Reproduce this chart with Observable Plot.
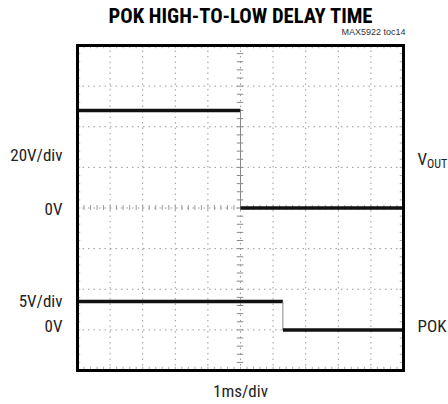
<!DOCTYPE html>
<html>
<head>
<meta charset="utf-8">
<script src="https://cdn.jsdelivr.net/npm/d3@7"></script>
<script src="https://cdn.jsdelivr.net/npm/@observablehq/plot@0.6"></script>
<style>
  html, body { margin: 0; padding: 0; background: #fff; }
  #chart svg { display: block; }
</style>
</head>
<body>
<div id="chart"></div>
<script>
// ---- data ----
const title = "POK HIGH-TO-LOW DELAY TIME";
const figureId = "MAX5922 toc14";
const timeLabel = "1ms/div";
const msPerDiv = 1;
const divsX = 10;          // horizontal divisions
const divsY = 8;           // vertical divisions

// VOUT trace (volts), 20V/div, zero at centre line
const voutTimeMs = [0, 5.0, 5.0, 10];
const voutVolts  = [48, 48, 0, 0];
const voutVPerDiv = 20;
const voutZeroDiv = 0;

// POK trace (volts), 5V/div, zero 3 divisions below centre
const pokTimeMs = [0, 6.3, 6.3, 10];
const pokVolts  = [3.5, 3.5, 0, 0];
const pokVPerDiv = 5;
const pokZeroDiv = -3;

const leftLabels  = ["20V/div", "0V", "5V/div", "0V"];
const leftLabelDiv = [voutZeroDiv + 1.3, voutZeroDiv - 0.04, pokZeroDiv + 0.69, pokZeroDiv + 0.08];
const rightLabels = ["VOUT", "POK"];
const rightLabelDiv = [voutZeroDiv + 1.2, pokZeroDiv + 0.08];

// ---- derived ----
function segments(ts, vs, vPerDiv, zero) {
  const pts = ts.map((t, i) => ({x: t / msPerDiv, y: vs[i] / vPerDiv + zero}));
  const segs = [];
  for (let i = 0; i < pts.length - 1; i++) {
    const a = pts[i], b = pts[i + 1];
    const horiz = a.y === b.y;
    segs.push({x1: a.x, y1: a.y, x2: b.x, y2: b.y, w: horiz ? 3.5 : 1, c: horiz ? "#111" : "#888"});
  }
  return segs;
}
const traceSegs = [
  ...segments(voutTimeMs, voutVolts, voutVPerDiv, voutZeroDiv),
  ...segments(pokTimeMs, pokVolts, pokVPerDiv, pokZeroDiv)
];

const gridX = d3.range(1, divsX);
const gridY = d3.range(-divsY / 2 + 1, divsY / 2);
const minorX = d3.range(0, divsX * 5 + 1).map(i => i / 5);
const minorY = d3.range(-divsY * 5 / 2, divsY * 5 / 2 + 1).map(i => i / 5);
const cx = divsX / 2;

const FONT = "'Liberation Sans Narrow', 'Arial Narrow', 'Roboto Condensed', 'DejaVu Sans Condensed', sans-serif";

const chart = Plot.plot({
  width: 448,
  height: 404,
  marginLeft: 77,
  marginRight: 45,
  marginTop: 45,
  marginBottom: 34,
  style: {fontFamily: FONT, background: "#fff", color: "#222"},
  x: {domain: [0, divsX], axis: null},
  y: {domain: [-divsY / 2, divsY / 2], axis: null},
  marks: [
    // dotted graticule
    Plot.ruleX(gridX, {stroke: "#9a9a9a", strokeWidth: 1, strokeDasharray: "1.5,4"}),
    Plot.ruleY(gridY, {stroke: "#9a9a9a", strokeWidth: 1, strokeDasharray: "1.5,4"}),
    // minor ticks on the centre axes
    Plot.ruleX(minorX, {x: d => d, y1: -0.06, y2: 0.06, stroke: "#999", strokeWidth: 1}),
    Plot.ruleY(minorY, {y: d => d, x1: cx - 0.1, x2: cx + 0.1, stroke: "#888", strokeWidth: 1}),
    // minor ticks along the frame edges
    Plot.ruleX(minorX, {x: d => d, y1: divsY / 2 - 0.08, y2: divsY / 2, stroke: "#aaa", strokeWidth: 1}),
    Plot.ruleX(minorX, {x: d => d, y1: -divsY / 2, y2: -divsY / 2 + 0.08, stroke: "#aaa", strokeWidth: 1}),
    Plot.ruleY(minorY, {y: d => d, x1: 0, x2: 0.1, stroke: "#aaa", strokeWidth: 1}),
    Plot.ruleY(minorY, {y: d => d, x1: divsX - 0.1, x2: divsX, stroke: "#aaa", strokeWidth: 1}),
    // traces
    Plot.link(traceSegs, {x1: "x1", y1: "y1", x2: "x2", y2: "y2", strokeWidth: "w", stroke: "c", strokeLinecap: "butt"}),
    Plot.frame({stroke: "#000", strokeWidth: 3}),
    // left labels
    Plot.text(leftLabels, {x: 0, y: (d, i) => leftLabelDiv[i], text: d => d, textAnchor: "end", lineAnchor: "middle", dx: -15, fontSize: 17, fill: "#222"}),
    // right labels
    Plot.text(rightLabels, {x: divsX, y: (d, i) => rightLabelDiv[i], text: d => d, textAnchor: "start", lineAnchor: "middle", dx: 14, fontSize: 17, fill: "#222", className: "rlab"}),
    // title, id, time label
    Plot.text([title], {frameAnchor: "top", lineAnchor: "middle", dy: -29, text: d => d, fontSize: 20, fontWeight: "bold", fill: "#000", className: "ttl"}),
    Plot.text([figureId], {frameAnchor: "top-right", lineAnchor: "middle", dx: 2, dy: -13, text: d => d, textAnchor: "end", fontSize: 9, fill: "#333", fontFamily: "'Liberation Sans', Arial, sans-serif"}),
    Plot.text([timeLabel], {frameAnchor: "bottom", lineAnchor: "middle", dy: 21, text: d => d, fontSize: 17, fill: "#222"})
  ]
});

document.getElementById("chart").append(chart);

// subscript for VOUT
d3.select(chart).selectAll("g.rlab text").each(function() {
  const t = this.textContent;
  if (t === "VOUT") {
    const sel = d3.select(this);
    sel.text("V");
    sel.append("tspan").attr("font-size", 12).attr("dy", 3).text("OUT");
  }
});
// title width to match the condensed heavy face
d3.select(chart).selectAll("g.ttl text").attr("textLength", 264).attr("lengthAdjust", "spacingAndGlyphs");
</script>
</body>
</html>
